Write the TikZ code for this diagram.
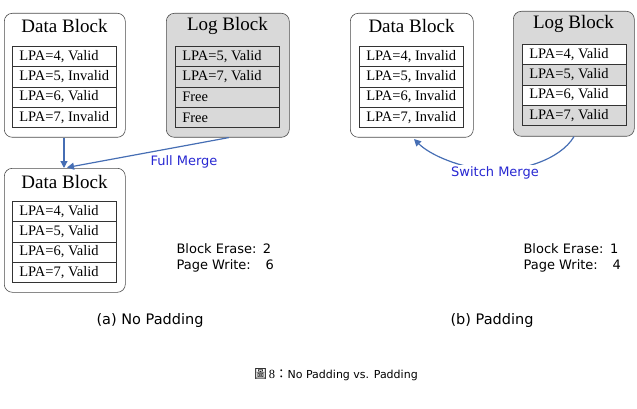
\documentclass[tikz,border=0pt]{standalone}
\usepackage{fontspec}
\setmainfont{Liberation Serif}
\newfontfamily\vsans{DejaVu Sans}
\newfontfamily\cjk{Noto Sans CJK TC}
\usetikzlibrary{arrows.meta}
\definecolor{mblue}{RGB}{70,110,180}
\definecolor{tblue}{RGB}{40,40,210}
\definecolor{gfill}{RGB}{217,217,217}
\newcommand\rowtxt[1]{\makebox[98pt][l]{\hspace*{4pt}#1}}
\begin{document}
\begin{tikzpicture}[x=1pt,y=-1pt,
  blk/.style={draw=black!70,rounded corners=8pt,line width=0.6pt},
  row/.style={draw=black!80,line width=0.6pt,minimum width=104pt,minimum height=20.3pt,inner sep=0pt,anchor=north west,font=\fontsize{14.5}{16}\selectfont},
  ttl/.style={font=\fontsize{19}{21}\selectfont},
  lbl/.style={font=\vsans\fontsize{13}{16}\selectfont},
  arr/.style={draw=mblue,line width=1.2pt,-{Triangle[length=7pt,width=7pt]}}]
\useasboundingbox (0,0) rectangle (637,409);
% left top data block
\node[blk,minimum width=121pt,minimum height=124pt,anchor=north west] (d1) at (4,13) {};
\node[ttl] (d1t) at (64.5,26) {Data Block};
\node[row] (d1a) at (12,46) {\rowtxt{LPA=4, Valid}};
\node[row] (d1b) at (12,66.3) {\rowtxt{LPA=5, Invalid}};
\node[row] (d1c) at (12,86.6) {\rowtxt{LPA=6, Valid}};
\node[row] (d1d) at (12,106.9) {\rowtxt{LPA=7, Invalid}};
% log block
\node[blk,fill=gfill,minimum width=123pt,minimum height=124pt,anchor=north west] (l1) at (166,13) {};
\node[ttl] (l1t) at (227.5,26) {Log Block};
\node[row] (l1a) at (175,46) {\rowtxt{LPA=5, Valid}};
\node[row] (l1b) at (175,66.3) {\rowtxt{LPA=7, Valid}};
\node[row] (l1c) at (175,86.6) {\rowtxt{Free}};
\node[row] (l1d) at (175,106.9) {\rowtxt{Free}};
% bottom data block
\node[blk,minimum width=121pt,minimum height=124pt,anchor=north west] (d2) at (4,168) {};
\node[ttl] (d2t) at (64.5,182) {Data Block};
\node[row] (d2a) at (12,201) {\rowtxt{LPA=4, Valid}};
\node[row] (d2b) at (12,221.3) {\rowtxt{LPA=5, Valid}};
\node[row] (d2c) at (12,241.6) {\rowtxt{LPA=6, Valid}};
\node[row] (d2d) at (12,261.9) {\rowtxt{LPA=7, Valid}};
\coordinate (m1) at (64,168);
\draw[arr] (d1.south -| m1) -- (m1);
\draw[arr] (l1.south) ++(1,0) -- (67,167.5);
\node[lbl,text=tblue] (fm) at (184,162) {Full Merge};
\node[lbl,align=left,anchor=north west] (s1) at (173,240) {Block Erase:\enspace 2\\Page Write:\enspace\ \ 6};
\node[font=\vsans\fontsize{14.5}{17}\selectfont] (ca) at (150,320) {(a) No Padding};
% right data block
\node[blk,minimum width=123pt,minimum height=124pt,anchor=north west] (d3) at (350,13) {};
\node[ttl] (d3t) at (411.5,26) {Data Block};
\node[row] (d3a) at (359,46) {\rowtxt{LPA=4, Invalid}};
\node[row] (d3b) at (359,66.3) {\rowtxt{LPA=5, Invalid}};
\node[row] (d3c) at (359,86.6) {\rowtxt{LPA=6, Invalid}};
\node[row] (d3d) at (359,106.9) {\rowtxt{LPA=7, Invalid}};
% right log block
\node[blk,fill=gfill,minimum width=121pt,minimum height=125pt,anchor=north west] (l2) at (513,11) {};
\node[ttl] (l2t) at (573.5,24) {Log Block};
\node[row,fill=white] (l2a) at (522,44) {\rowtxt{LPA=4, Valid}};
\node[row] (l2b) at (522,64.3) {\rowtxt{LPA=5, Valid}};
\node[row,fill=white] (l2c) at (522,84.6) {\rowtxt{LPA=6, Valid}};
\node[row] (l2d) at (522,104.9) {\rowtxt{LPA=7, Valid}};
\coordinate (sm) at (414,139);
\draw[arr] (l2.south -| 574,0) .. controls (560,160) and (520,172) .. (490,170) .. controls (460,168) and (430,155) .. (sm);
\node[lbl,text=tblue,fill=white,inner sep=2pt] (swm) at (495,173) {Switch Merge};
\node[lbl,align=left,anchor=north west] (s2) at (520,240) {Block Erase:\enspace 1\\Page Write:\enspace\ \ 4};
\node[font=\vsans\fontsize{14.5}{17}\selectfont] (cb) at (492,320) {(b) Padding};
\node[font=\fontsize{12.5}{14}\selectfont] (cap) at (336,375) {{\cjk 圖}\,8{\cjk ：}{\vsans\fontsize{11}{13}\selectfont No Padding vs. Padding}};
\end{tikzpicture}
\end{document}
